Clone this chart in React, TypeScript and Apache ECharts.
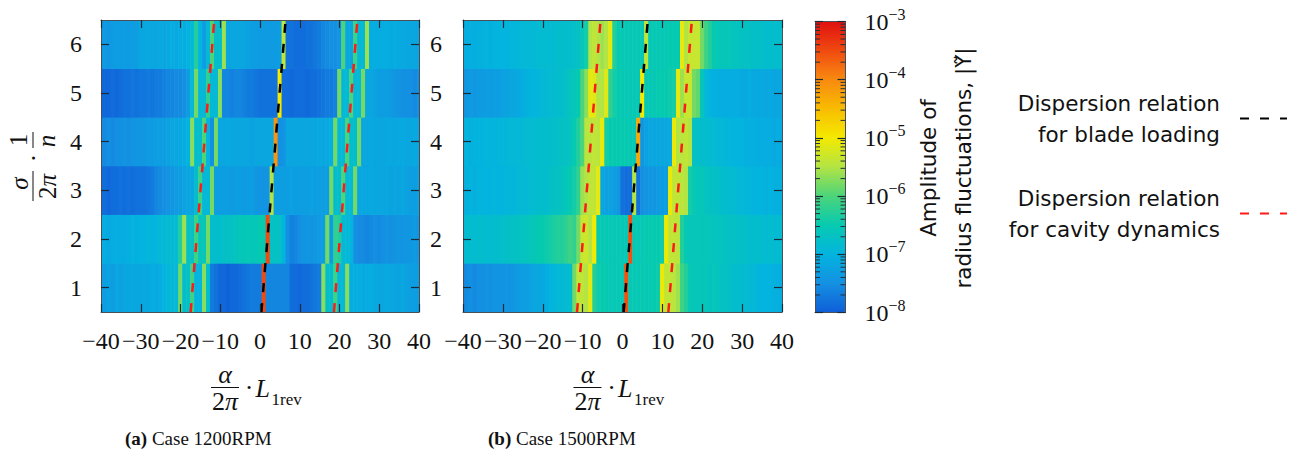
import React, { useEffect, useRef } from 'react';
import * as echarts from 'echarts';

const SERIF = '"Liberation Serif", "Times New Roman", serif';
const SANS = '"DejaVu Sans", sans-serif';

// ---- axes / tick labels ----
const xTickValues = [-40, -30, -20, -10, 0, 10, 20, 30, 40];
const yTickValues = [1, 2, 3, 4, 5, 6];
const colorbarDecades = [-8, -7, -6, -5, -4, -3];
const harmonics = [1, 2, 3, 4, 5, 6];
const wavenumbers = Array.from({ length: 81 }, (_, i) => i - 40);

// ---- log10 |Y| per wavenumber (-40..40), case 1200 RPM ----
const rpm1200_n1 = [
  -7.3, -7.3, -7.25, -7.3, -7.2, -7.25, -7.2, -7.2, -7.15, -7.2,
  -7.2, -7.15, -7.2, -7.1, -7.15, -7.1, -7.0, -6.95, -6.9, -6.9,
  -5.8, -6.8, -6.7, -6.1, -7.0, -7.0, -5.7, -6.8, -7.7, -7.8,
  -7.9, -7.9, -7.95, -7.9, -7.9, -7.85, -7.8, -7.75, -7.7, -7.7,
  -7.7, -3.5, -7.6, -7.6, -7.6, -7.6, -7.6, -7.6, -7.85, -7.85, -7.9,
  -7.85, -7.85, -7.8, -7.75, -7.7, -5.7, -6.8, -6.8, -6.1, -6.9,
  -6.9, -5.7, -7.1, -7.1, -7.1, -7.15, -7.1, -7.1, -7.15, -7.2,
  -7.2, -7.15, -7.2, -7.2, -7.25, -7.2, -7.25, -7.3, -7.3, -7.3,
];
const rpm1200_n2 = [
  -7.1, -7.1, -7.15, -7.1, -7.05, -7.1, -7.1, -7.05, -7.0, -7.05,
  -7.0, -7.0, -6.95, -7.0, -6.95, -6.9, -6.9, -6.85, -6.9, -6.85,
  -6.3, -5.6, -6.7, -6.7, -6.1, -6.6, -6.6, -5.8, -6.8, -6.8,
  -6.8, -6.75, -6.7, -6.7, -6.65, -6.6, -6.6, -6.55, -6.6, -6.6,
  -6.5, -6.5, -3.5, -6.7, -6.7, -6.7, -7.0, -7.5, -7.65, -7.6, -7.5,
  -7.45, -7.4, -7.45, -7.4, -7.35, -7.3, -5.8, -7.3, -6.2, -6.3,
  -6.9, -6.9, -7.0, -7.5, -7.55, -7.55, -7.6, -7.55, -7.5, -7.55,
  -7.5, -7.45, -7.5, -7.45, -7.4, -7.45, -7.4, -7.4, -7.35, -7.4,
];
const rpm1200_n3 = [
  -7.85, -7.85, -7.9, -7.85, -7.85, -7.8, -7.85, -7.8, -7.85, -7.8,
  -7.8, -7.8, -7.75, -7.7, -7.6, -7.55, -7.5, -7.45, -7.4, -7.35,
  -7.3, -7.25, -7.2, -7.2, -6.8, -6.1, -6.9, -6.9, -5.8, -7.3,
  -7.3, -7.3, -7.3, -7.35, -7.3, -7.3, -7.35, -7.3, -7.3, -7.4,
  -7.45, -7.45, -7.45, -5.5, -7.3, -7.3, -7.3, -7.3, -7.25, -7.3, -7.3,
  -7.3, -7.3, -7.25, -7.3, -7.3, -7.3, -7.3, -5.8, -6.8, -6.8,
  -6.0, -6.9, -6.9, -5.8, -7.2, -7.2, -7.2, -7.15, -7.2, -7.2,
  -7.2, -7.2, -7.25, -7.2, -7.25, -7.2, -7.25, -7.3, -7.3, -7.25,
];
const rpm1200_n4 = [
  -7.55, -7.55, -7.5, -7.55, -7.5, -7.5, -7.45, -7.5, -7.45, -7.4,
  -7.4, -7.4, -7.35, -7.35, -7.3, -7.3, -7.3, -7.25, -7.2, -7.2,
  -7.15, -7.1, -7.0, -5.7, -6.8, -6.8, -6.0, -7.0, -7.5, -5.8,
  -7.2, -7.2, -7.15, -7.2, -7.2, -7.2, -7.2, -7.2, -7.25, -7.2,
  -7.2, -7.2, -7.2, -7.2, -4.1, -7.5, -7.45, -7.2, -7.2, -7.2, -7.2,
  -7.2, -7.2, -7.2, -7.2, -7.15, -7.2, -7.15, -7.1, -5.8, -6.9,
  -6.9, -6.0, -6.8, -6.8, -5.8, -7.2, -7.2, -7.15, -7.2, -7.2,
  -7.2, -7.15, -7.15, -7.2, -7.15, -7.15, -7.2, -7.2, -7.15, -7.2,
];
const rpm1200_n5 = [
  -7.9, -7.9, -7.9, -7.85, -7.9, -7.85, -7.8, -7.8, -7.75, -7.8,
  -7.75, -7.75, -7.7, -7.75, -7.7, -7.7, -7.65, -7.6, -7.6, -7.55,
  -7.55, -7.5, -7.3, -6.9, -5.8, -6.9, -6.9, -6.2, -6.9, -6.9,
  -5.7, -7.6, -7.6, -7.65, -7.6, -7.6, -7.65, -7.7, -7.7, -7.75,
  -7.8, -7.8, -7.8, -7.8, -7.8, -5.0, -7.85, -7.85, -7.9, -7.85, -7.85,
  -7.85, -7.9, -7.85, -7.85, -7.8, -7.75, -7.7, -7.7, -7.65, -5.8,
  -6.9, -6.9, -6.0, -6.9, -6.9, -5.8, -7.2, -7.2, -7.25, -7.3,
  -7.3, -7.3, -7.35, -7.4, -7.45, -7.5, -7.5, -7.5, -7.55, -7.5,
];
const rpm1200_n6 = [
  -7.4, -7.35, -7.4, -7.35, -7.3, -7.35, -7.3, -7.35, -7.3, -7.3,
  -7.2, -7.2, -7.15, -7.2, -7.2, -7.15, -7.2, -7.15, -7.1, -7.15,
  -7.1, -7.1, -7.0, -6.9, -6.3, -7.0, -7.3, -6.9, -6.0, -6.8,
  -6.8, -5.6, -7.2, -7.2, -7.2, -7.2, -7.2, -7.25, -7.3, -7.3,
  -7.35, -7.35, -7.35, -7.35, -7.35, -7.3, -5.4, -7.8, -7.8, -7.85, -7.85,
  -7.85, -7.8, -7.8, -7.75, -7.7, -7.6, -7.55, -7.5, -7.5, -7.45,
  -6.0, -7.2, -7.2, -6.1, -6.9, -6.9, -5.6, -7.1, -7.1, -7.1,
  -7.1, -7.1, -7.15, -7.1, -7.15, -7.15, -7.2, -7.2, -7.2, -7.2,
];

// ---- log10 |Y| per wavenumber (-40..40), case 1500 RPM ----
const rpm1500_n1 = [
  -7.55, -7.55, -7.5, -7.55, -7.5, -7.5, -7.45, -7.5, -7.45, -7.45,
  -7.45, -7.4, -7.45, -7.4, -7.35, -7.3, -7.3, -7.25, -7.2, -7.2,
  -7.15, -7.1, -7.0, -6.95, -6.9, -6.9, -6.85, -6.8, -5.8, -5.4,
  -5.4, -5.5, -5.1, -6.3, -6.45, -6.5, -6.5, -6.55, -6.55, -6.55,
  -6.55, -3.55, -6.55, -6.55, -6.55, -6.5, -6.55, -6.5, -6.5, -6.45, -5.05,
  -5.4, -5.4, -5.45, -5.6, -6.1, -6.3, -6.55, -6.6, -6.6, -6.6,
  -6.6, -6.65, -6.6, -6.65, -6.7, -6.7, -6.75, -6.8, -6.8, -6.85,
  -6.85, -6.9, -6.9, -6.95, -7.0, -7.0, -7.0, -7.05, -7.05, -7.1,
];
const rpm1500_n2 = [
  -6.85, -6.85, -6.8, -6.85, -6.8, -6.8, -6.85, -6.8, -6.8, -6.8,
  -6.75, -6.75, -6.7, -6.7, -6.7, -6.65, -6.65, -6.6, -6.6, -6.5,
  -6.5, -6.45, -6.4, -6.35, -6.3, -6.3, -6.2, -6.1, -6.2, -5.8,
  -5.35, -5.3, -5.5, -5.0, -6.5, -6.55, -6.55, -6.55, -6.55, -6.55,
  -6.55, -6.55, -3.55, -6.55, -6.55, -6.55, -6.5, -6.5, -6.5, -6.5, -6.45,
  -5.05, -5.4, -5.4, -5.45, -6.3, -6.55, -6.6, -6.6, -6.6, -6.6,
  -6.6, -6.6, -6.65, -6.65, -6.65, -6.7, -6.7, -6.7, -6.75, -6.75,
  -6.75, -6.8, -6.8, -6.8, -6.8, -6.85, -6.8, -6.85, -6.85, -6.85,
];
const rpm1500_n3 = [
  -7.05, -7.05, -7.0, -7.05, -7.0, -7.0, -7.0, -7.0, -6.95, -7.0,
  -7.0, -6.95, -6.95, -6.95, -6.9, -6.9, -6.9, -6.85, -6.85, -6.8,
  -6.8, -6.8, -6.75, -6.7, -6.7, -6.65, -6.6, -6.5, -6.4, -6.2,
  -5.6, -5.5, -5.4, -5.4, -5.1, -7.2, -7.25, -7.25, -7.3, -7.4,
  -7.8, -7.85, -7.85, -5.5, -7.8, -7.5, -7.45, -7.4, -7.4, -7.35, -7.35,
  -7.3, -5.05, -5.4, -5.4, -5.45, -5.5, -6.4, -6.55, -6.6, -6.6,
  -6.65, -6.7, -6.7, -6.75, -6.8, -6.8, -6.85, -6.85, -6.9, -6.9,
  -6.95, -6.95, -7.0, -7.0, -7.0, -7.05, -7.0, -7.05, -7.05, -7.05,
];
const rpm1500_n4 = [
  -7.05, -7.0, -7.05, -7.0, -7.0, -7.0, -6.95, -7.0, -7.0, -6.95,
  -6.95, -6.95, -6.9, -6.9, -6.9, -6.9, -6.85, -6.85, -6.85, -6.8,
  -6.8, -6.8, -6.8, -6.75, -6.75, -6.7, -6.7, -6.65, -6.5, -6.3,
  -6.0, -5.45, -5.45, -5.4, -5.45, -5.05, -6.4, -6.5, -6.5, -6.5,
  -6.5, -6.5, -6.55, -6.55, -4.3, -7.4, -7.25, -7.2, -7.2, -7.2, -7.2,
  -7.2, -7.15, -5.05, -5.5, -5.45, -5.4, -5.5, -6.7, -6.75, -6.8,
  -6.8, -6.85, -6.85, -6.9, -6.9, -6.95, -6.95, -7.0, -7.0, -7.0,
  -7.05, -7.05, -7.05, -7.1, -7.1, -7.1, -7.1, -7.15, -7.1, -7.15,
];
const rpm1500_n5 = [
  -7.4, -7.4, -7.35, -7.4, -7.35, -7.35, -7.3, -7.35, -7.3, -7.3,
  -7.25, -7.25, -7.2, -7.2, -7.15, -7.1, -7.05, -7.0, -7.0, -6.95,
  -6.9, -6.9, -6.85, -6.85, -6.8, -6.8, -6.7, -6.65, -6.6, -6.5,
  -6.0, -5.7, -5.1, -5.15, -5.5, -5.5, -5.15, -6.2, -6.4, -6.5,
  -6.55, -6.55, -6.55, -6.55, -6.55, -5.0, -6.55, -6.55, -6.55, -6.5, -6.5,
  -6.5, -6.45, -6.4, -5.1, -5.6, -5.35, -5.35, -5.8, -5.9, -6.6,
  -6.9, -7.0, -7.05, -7.05, -7.1, -7.1, -7.1, -7.1, -7.1, -7.15,
  -7.15, -7.1, -7.15, -7.15, -7.15, -7.2, -7.15, -7.2, -7.2, -7.2,
];
const rpm1500_n6 = [
  -7.1, -7.1, -7.05, -7.1, -7.05, -7.05, -7.0, -7.05, -7.0, -7.0,
  -7.0, -7.0, -6.95, -6.95, -6.95, -6.9, -6.9, -6.9, -6.9, -6.85,
  -6.85, -6.85, -6.85, -6.85, -6.8, -6.8, -6.8, -6.8, -6.75, -6.7,
  -6.6, -6.4, -5.5, -5.4, -5.5, -5.6, -5.5, -5.1, -6.3, -6.5,
  -6.55, -6.55, -6.55, -6.55, -6.55, -6.55, -5.4, -6.55, -6.55, -6.55, -6.55,
  -6.55, -6.5, -6.5, -6.5, -5.1, -5.5, -5.35, -5.35, -5.35, -5.8,
  -6.1, -6.3, -6.5, -6.55, -6.6, -6.6, -6.6, -6.65, -6.65, -6.7,
  -6.7, -6.7, -6.75, -6.75, -6.75, -6.8, -6.8, -6.8, -6.8, -6.8,
];

// ---- dispersion relations (end points [wavenumber, harmonic]) ----
const bladeLoading1200 = [[0.35, 0.5], [6.45, 6.5]];
const cavityLow1200 = [[-17.45, 0.5], [-11.5, 6.5]];
const cavityHigh1200 = [[18.6, 0.5], [24.5, 6.5]];
const bladeLoading1500 = [[0.3, 0.5], [6.35, 6.5]];
const cavityLow1500 = [[-11.4, 0.5], [-5.5, 6.5]];
const cavityHigh1500 = [[11.5, 0.5], [17.4, 6.5]];

const BLADE = 'Dispersion relation\nfor blade loading';
const CAVITY = 'Dispersion relation\nfor cavity dynamics';

// jet-like colour scale from 1e-8 to 1e-3 (steps of half a decade)
const jetColors = [
  '#0f5ed8', '#1490e2', '#03b4df', '#06cab0', '#4cd47a', '#b2e444',
  '#f4ea00', '#f8bc00', '#f88a10', '#f04a10', '#e01010',
];

const minorTickValues: number[] = [];
[-8, -7, -6, -5, -4].forEach((d) => {
  [2, 3, 4, 5, 6, 7, 8, 9].forEach((m) => minorTickValues.push(d + Math.log10(m)));
});

function heatData(rows: number[][]) {
  const out: number[][] = [];
  rows.forEach((row, r) => row.forEach((v, i) => out.push([wavenumbers[i], harmonics[r], v])));
  return out;
}

const renderCell = (params: any, api: any) => {
  const k = api.value(0);
  const n = api.value(1);
  const p0 = api.coord([k - 0.5, n + 0.5]);
  const p1 = api.coord([k + 0.5, n - 0.5]);
  const cs = params.coordSys;
  const rect = echarts.graphic.clipRectByRect(
    { x: p0[0] - 0.3, y: p0[1] - 0.3, width: p1[0] - p0[0] + 0.6, height: p1[1] - p0[1] + 0.6 },
    { x: cs.x, y: cs.y, width: cs.width, height: cs.height }
  );
  return rect && { type: 'rect', shape: rect, style: { fill: api.visual('color') } };
};

const renderMinorTick = (params: any, api: any) => {
  const v = api.value(1);
  const a = api.coord([0, v]);
  const b = api.coord([1, v]);
  const st = { stroke: '#22303c', lineWidth: 1 };
  return {
    type: 'group',
    children: [
      { type: 'line', shape: { x1: a[0], y1: a[1], x2: a[0] + 5, y2: a[1] }, style: st },
      { type: 'line', shape: { x1: b[0] - 5, y1: b[1], x2: b[0], y2: b[1] }, style: st },
    ],
  };
};

const borderLine = { show: true, onZero: false, lineStyle: { color: '#4a4f55', width: 1 } };
const innerTick = { show: true, inside: true, length: 8, lineStyle: { color: '#1c2b3a', width: 1.2 } };
const tickFont = { fontFamily: SERIF, fontSize: 24, color: '#111' };
const minus = (v: number) => (v < 0 ? '\u2212' + Math.abs(v) : String(v));

function xAxesFor(gridIndex: number) {
  return [
    {
      type: 'value', gridIndex, min: -40, max: 40, interval: 10, position: 'bottom', z: 5,
      axisLine: borderLine, axisTick: innerTick, splitLine: { show: false },
      axisLabel: { ...tickFont, margin: 17, formatter: minus, customValues: xTickValues },
    },
    {
      type: 'value', gridIndex, min: -40, max: 40, interval: 10, position: 'top', z: 5,
      axisLine: borderLine, axisTick: innerTick, splitLine: { show: false }, axisLabel: { show: false },
    },
  ];
}
function yAxesFor(gridIndex: number, margin: number) {
  return [
    {
      type: 'value', gridIndex, min: 0.5, max: 6.5, position: 'left', z: 5,
      axisLine: borderLine, axisTick: { ...innerTick, customValues: yTickValues }, splitLine: { show: false },
      axisLabel: {
        ...tickFont, margin, customValues: yTickValues,
        formatter: (v: number) => (Number.isInteger(v) ? String(v) : ''),
      },
    },
    {
      type: 'value', gridIndex, min: 0.5, max: 6.5, position: 'right', z: 5,
      axisLine: borderLine, axisTick: { ...innerTick, customValues: yTickValues }, splitLine: { show: false },
      axisLabel: { show: false },
    },
  ];
}

function dispersion(name: string, data: number[][], color: string, axis: number) {
  return {
    type: 'line', name, data, xAxisIndex: axis, yAxisIndex: axis, symbol: 'none', silent: true, z: 3,
    lineStyle: { color, width: 2.5, type: [9, 11] },
    itemStyle: { color: 'rgba(0,0,0,0)', borderColor: 'rgba(0,0,0,0)', borderWidth: 0 },
  };
}

function txt(x: number, y: number, text: string, opts: any = {}, rotation = 0) {
  return {
    type: 'text', x, y, rotation, silent: true,
    style: {
      text, fill: '#111', fontFamily: SERIF, fontSize: 25, align: 'center', verticalAlign: 'middle', ...opts,
    },
  };
}
function bar(x1: number, y1: number, x2: number, y2: number) {
  return { type: 'line', silent: true, shape: { x1, y1, x2, y2 }, style: { stroke: '#111', lineWidth: 1 } };
}

const twoPi = (size: number) => ({
  rich: {
    r: { fontFamily: SERIF, fontSize: size, fill: '#111' },
    i: { fontFamily: SERIF, fontSize: size, fontStyle: 'italic', fill: '#111' },
  },
});

function xName(dx: number) {
  return [
    txt(225 + dx, 374, 'α', { fontStyle: 'italic', fontSize: 26 }),
    bar(211 + dx, 387.5, 239 + dx, 387.5),
    txt(225 + dx, 401, '{r|2}{i|π}', { fontSize: 26, ...twoPi(26) }),
    txt(249 + dx, 387, '·', { fontSize: 26 }),
    txt(255.5 + dx, 388, 'L', { fontStyle: 'italic', fontSize: 26, align: 'left' }),
    txt(271.5 + dx, 399.5, '1rev', { fontSize: 17, align: 'left' }),
  ];
}

const PI2 = Math.PI / 2;
const yName = [
  txt(19.5, 183.5, 'σ', { fontStyle: 'italic' }, PI2),
  bar(33, 171, 33, 201),
  txt(47.5, 186.5, '{r|2}{i|π}', { ...twoPi(25) }, PI2),
  txt(33, 158, '·', {}, PI2),
  txt(18, 140, '1', {}, PI2),
  bar(33, 132, 33, 148),
  txt(46.5, 141, 'n', { fontStyle: 'italic' }, PI2),
];

const captionRich = { rich: { b: { fontFamily: SERIF, fontSize: 19, fontWeight: 'bold', fill: '#111' } } };
const captions = [
  txt(125, 438.5, '{b|(a)} Case 1200RPM', { fontSize: 19, align: 'left', ...captionRich }),
  txt(488, 438.5, '{b|(b)} Case 1500RPM', { fontSize: 19, align: 'left', ...captionRich }),
];

const colorbarTitle = txt(945.5, 168, 'Amplitude of\nradius fluctuations, |\u03A5\u0303|', {
  fontFamily: SANS, fontSize: 21.5, lineHeight: 35,
}, PI2);

const legendCommon = {
  orient: 'vertical', align: 'right', right: 21, itemWidth: 47, itemHeight: 12, padding: 0, selectedMode: false,
  itemStyle: { opacity: 0 },
  textStyle: { fontFamily: SANS, fontSize: 21.5, lineHeight: 31, color: '#111', padding: [0, 15, 0, 0] },
};

const option: any = {
  animation: false,
  backgroundColor: '#ffffff',
  grid: [
    { left: 101, top: 20, width: 318, height: 292 },
    { left: 463, top: 20, width: 319, height: 292 },
    { left: 815, top: 21.5, width: 30.5, height: 291 },
  ],
  xAxis: [
    ...xAxesFor(0),
    ...xAxesFor(1),
    { type: 'value', gridIndex: 2, min: 0, max: 1, position: 'bottom', z: 5, axisLine: borderLine, axisTick: { show: false }, axisLabel: { show: false }, splitLine: { show: false } },
    { type: 'value', gridIndex: 2, min: 0, max: 1, position: 'top', z: 5, axisLine: borderLine, axisTick: { show: false }, axisLabel: { show: false }, splitLine: { show: false } },
  ],
  yAxis: [
    ...yAxesFor(0, 19),
    ...yAxesFor(1, 21),
    {
      type: 'value', gridIndex: 2, min: -8, max: -3, interval: 1, position: 'right', z: 5,
      axisLine: borderLine, axisTick: innerTick, splitLine: { show: false },
      axisLabel: {
        margin: 19, customValues: colorbarDecades,
        formatter: (v: number) => `{a|10}{s|${minus(v)}}`,
        rich: {
          a: { fontFamily: SERIF, fontSize: 24, color: '#111' },
          s: { fontFamily: SERIF, fontSize: 16, color: '#111', padding: [0, 0, 15, 0] },
        },
      },
    },
    {
      type: 'value', gridIndex: 2, min: -8, max: -3, interval: 1, position: 'left', z: 5,
      axisLine: borderLine, axisTick: innerTick, splitLine: { show: false }, axisLabel: { show: false },
    },
  ],
  visualMap: {
    type: 'continuous', min: -8, max: -3, dimension: 2, seriesIndex: [0, 1],
    inRange: { color: jetColors },
    show: true, calculable: false, hoverLink: false,
    left: 815, top: 21.5, itemWidth: 30.5, itemHeight: 291, padding: 0,
  },
  legend: [
    { ...legendCommon, data: [BLADE], top: 87.5 },
    { ...legendCommon, data: [CAVITY], top: 182.5 },
  ],
  graphic: [...yName, ...xName(0), ...xName(362.5), ...captions, colorbarTitle],
  series: [
    {
      type: 'custom', name: 'Case 1200RPM', xAxisIndex: 0, yAxisIndex: 0, silent: true, z: 2,
      encode: { x: 0, y: 1 }, renderItem: renderCell,
      data: heatData([rpm1200_n1, rpm1200_n2, rpm1200_n3, rpm1200_n4, rpm1200_n5, rpm1200_n6]),
    },
    {
      type: 'custom', name: 'Case 1500RPM', xAxisIndex: 2, yAxisIndex: 2, silent: true, z: 2,
      encode: { x: 0, y: 1 }, renderItem: renderCell,
      data: heatData([rpm1500_n1, rpm1500_n2, rpm1500_n3, rpm1500_n4, rpm1500_n5, rpm1500_n6]),
    },
    dispersion(BLADE, bladeLoading1200, '#000000', 0),
    dispersion(CAVITY, cavityLow1200, '#ff1a1a', 0),
    dispersion(CAVITY, cavityHigh1200, '#ff1a1a', 0),
    dispersion(BLADE, bladeLoading1500, '#000000', 2),
    dispersion(CAVITY, cavityLow1500, '#ff1a1a', 2),
    dispersion(CAVITY, cavityHigh1500, '#ff1a1a', 2),
    {
      type: 'custom', name: 'minor ticks', xAxisIndex: 4, yAxisIndex: 4, silent: true, z: 10,
      encode: { x: 0, y: 1 }, renderItem: renderMinorTick,
      data: minorTickValues.map((v) => [0, v]),
    },
  ],
};

export default function App() {
  const ref = useRef<HTMLDivElement>(null);
  useEffect(() => {
    const chart = echarts.init(ref.current as HTMLDivElement, null, { renderer: 'svg' });
    chart.setOption(option);
    return () => chart.dispose();
  }, []);
  return (
    <div
      ref={ref}
      style={{ position: 'absolute', left: 0, top: 0, width: 1309, height: 452, background: '#fff' }}
    />
  );
}
